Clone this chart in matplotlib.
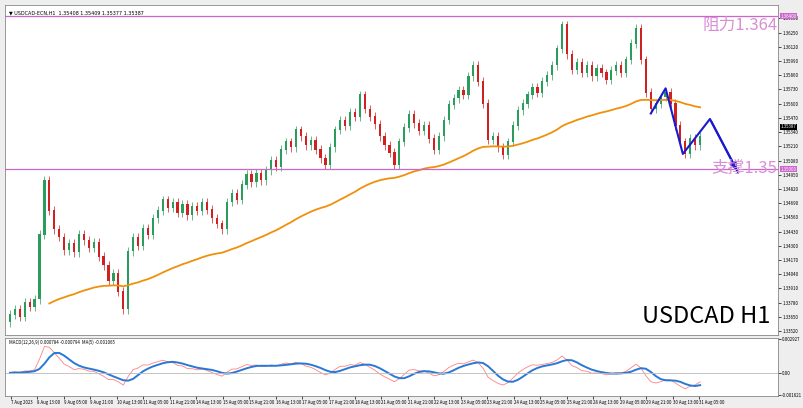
import numpy as np
import pandas as pd
import matplotlib
matplotlib.use("Agg")
import matplotlib.pyplot as plt

plt.rcParams['font.family'] = ['Noto Sans CJK SC', 'DejaVu Sans']

closes = [1.3367,1.3372,1.3365,1.3378,1.3374,1.3381,1.3440,1.3490,
 1.3462,1.3445,1.3438,1.3426,1.3432,1.3424,1.3440,1.3435,
 1.3428,1.3433,1.3420,1.3412,1.3398,1.3405,1.3388,1.3372,
 1.3425,1.3438,1.3430,1.3446,1.3440,1.3455,1.3462,1.3472,
 1.3465,1.3470,1.3460,1.3468,1.3458,1.3466,1.3462,1.3470,
 1.3463,1.3455,1.3450,1.3445,1.3470,1.3478,1.3472,1.3486,
 1.3495,1.3488,1.3496,1.3490,1.3499,1.3508,1.3502,1.3518,
 1.3525,1.3520,1.3536,1.3530,1.3522,1.3526,1.3518,1.3510,
 1.3504,1.3520,1.3536,1.3545,1.3540,1.3552,1.3548,1.3568,
 1.3555,1.3548,1.3541,1.3530,1.3522,1.3515,1.3504,1.3525,
 1.3538,1.3550,1.3542,1.3535,1.3540,1.3528,1.3518,1.3530,
 1.3545,1.3559,1.3565,1.3572,1.3568,1.3585,1.3595,1.3580,
 1.3560,1.3527,1.3530,1.3520,1.3513,1.3525,1.3540,1.3554,
 1.3560,1.3568,1.3575,1.3570,1.3580,1.3586,1.3595,1.3610,
 1.3632,1.3605,1.3591,1.3598,1.3588,1.3595,1.3585,1.3592,
 1.3588,1.3582,1.3590,1.3595,1.3588,1.3600,1.3615,1.3629,
 1.3600,1.3570,1.3555,1.3560,1.3566,1.3570,1.3560,1.3540,
 1.3525,1.3514,1.3528,1.3522,1.3530]
first_open = 1.3360
zig_x = [130, 133, 136.5, 142, 147.7]
zig_y = [1.3551, 1.3574, 1.3514, 1.3546, 1.3497]
resistance = 1.3640
support = 1.3500
current = 1.35387
date_labels = ["7 Aug 2023","8 Aug 13:00","9 Aug 05:00","9 Aug 21:00","10 Aug 13:00",
 "11 Aug 05:00","11 Aug 21:00","14 Aug 13:00","15 Aug 05:00","15 Aug 21:00",
 "16 Aug 13:00","17 Aug 05:00","17 Aug 21:00","18 Aug 13:00","21 Aug 05:00",
 "21 Aug 21:00","22 Aug 13:00","23 Aug 05:00","23 Aug 21:00","24 Aug 13:00",
 "25 Aug 05:00","25 Aug 21:00","28 Aug 13:00","29 Aug 05:00","29 Aug 21:00",
 "30 Aug 13:00","31 Aug 05:00"]

c = np.array(closes)
o = np.concatenate([[first_open], c[:-1]])
hi = np.maximum(o, c) + 0.0004
lo = np.minimum(o, c) - 0.0004
n = len(c)
x = np.arange(n)

W, H = 804, 408
fig = plt.figure(figsize=(8.04, 4.08), dpi=100)
fig.patch.set_facecolor('#eeeeee')
ax = fig.add_axes([5/W, 1-335/H, 773/W, 330/H])
mx = fig.add_axes([5/W, 1-396/H, 773/W, 58/H], sharex=ax)
for a in (ax, mx):
    a.set_facecolor('white')
    for s in a.spines.values():
        s.set_color('#888888'); s.set_linewidth(0.6)

up = c >= o
col = np.where(up, '#2a9d5c', '#d02020')
ax.vlines(x, lo, hi, colors=col, linewidth=0.5)
ax.bar(x, np.abs(c-o)+0.00005, bottom=np.minimum(o, c), width=0.45, color=col, linewidth=0)

ma = pd.Series(c).ewm(span=60, adjust=False).mean()
ax.plot(x[8:], ma[8:], color='#f0900a', lw=1.3)

ax.axhline(resistance, color='#cc66cc', lw=0.9)
ax.axhline(support, color='#cc66cc', lw=0.9)
ax.plot(zig_x, zig_y, color='#1a1ad0', lw=1.5)
ax.annotate('', xy=(zig_x[-1], zig_y[-1]), xytext=(zig_x[-2], zig_y[-2]),
            arrowprops=dict(arrowstyle='-|>', color='#1a1ad0', lw=1.5))

ax.text(0.999, 0.965, '阻力1.364', transform=ax.transAxes, ha='right', va='top', color='#d98fd6', fontsize=12)
ax.text(0.999, 0.53, '支撑1.35', transform=ax.transAxes, ha='right', va='top', color='#d98fd6', fontsize=12)
ax.text(0.99, 0.02, 'USDCAD H1', transform=ax.transAxes, ha='right', va='bottom', color='black', fontsize=17)
ax.text(0.005, 0.985, '▼ USDCAD-ECN,H1  1.35408 1.35409 1.35377 1.35387', transform=ax.transAxes,
        ha='left', va='top', fontsize=3.5, family=['DejaVu Sans'])

y0 = 1.36365 - (335-20)/10935
y1 = 1.36365 + (20-5)/10935
ax.set_ylim(y0, y1)
ax.set_xlim(-1, 155.8)
ax.yaxis.tick_right()
yt = 1.33520 + 0.0013*np.arange(23)
ax.set_yticks(yt)
ax.set_yticklabels([f'{v:.5f}' for v in yt], fontsize=3.2)
ax.tick_params(axis='y', length=2, width=0.5, pad=1)
ax.tick_params(axis='x', bottom=False, labelbottom=False)
for val, fc in [(resistance, '#cc66cc'), (support, '#cc66cc'), (current, 'black')]:
    ax.text(1.003, (val-y0)/(y1-y0), f'{val:.5f}', transform=ax.transAxes, fontsize=3.2,
            color='white', va='center', ha='left', bbox=dict(fc=fc, ec='none', pad=0.5))

s = pd.Series(c)
macd = s.ewm(span=4, adjust=False).mean() - s.ewm(span=9, adjust=False).mean()
sig = macd.rolling(3, min_periods=1).mean()
mx.plot(x, macd, color='#ff8080', lw=0.6)
mx.plot(x, sig.ewm(span=3).mean(), color='#2878d8', lw=1.4)
mx.axhline(0, color='#bbbbbb', lw=0.6)
m = max(abs(macd.min()), macd.max())*1.1
mx.set_ylim(-m*0.8, m*1.2)
mx.yaxis.tick_right()
mx.set_yticks([-m*0.75, 0, m*1.15])
mx.set_yticklabels(['-0.001621', '0.00', '0.002927'], fontsize=3.2)
mx.tick_params(axis='y', length=2, width=0.5, pad=1)
mx.text(0.005, 0.97, 'MACD(12,26,9) 0.000784 -0.000794  MA(5) -0.001065', transform=mx.transAxes,
        fontsize=3.2, va='top')
xt = (1 + 26.47*np.arange(len(date_labels)))/4.93
mx.set_xticks(xt)
mx.set_xticklabels(date_labels, fontsize=3.1, ha='left')
mx.tick_params(axis='x', length=2, width=0.5, pad=1)

fig.savefig('out.png', dpi=100, facecolor=fig.get_facecolor())
